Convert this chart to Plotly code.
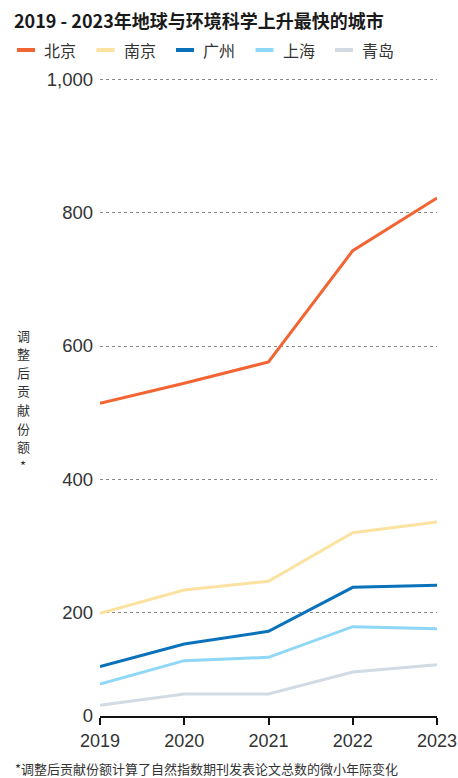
import plotly.graph_objects as go

years = [2019, 2020, 2021, 2022, 2023]
cities = ["北京", "南京", "广州", "上海", "青岛"]
beijing = [514, 544, 576, 743, 822]
nanjing = [199, 234, 247, 320, 336]
guangzhou = [119, 153, 172, 238, 241]
shanghai = [93, 128, 133, 179, 176]
qingdao = [61, 78, 78, 111, 122]
series = [beijing, nanjing, guangzhou, shanghai, qingdao]
colors = ["#F26532", "#FCE2A0", "#0A72BA", "#8FD7F6", "#D2DBE3"]

# the value axis starts a little above zero; the baseline carries the "0" label
y_floor = 45
y_ticks = [y_floor, 200, 400, 600, 800, 1000]
y_tick_text = ["0", "200", "400", "600", "800", "1,000"]

W, H = 458, 778
ML, MR, MT, MB = 100, 21, 78, 62
PW, PH = W - ML - MR, H - MT - MB
FONT = "Liberation Sans, Noto Sans CJK SC, sans-serif"
CJK = "Noto Sans CJK SC, Liberation Sans, sans-serif"


def px_x(px):
    """Horizontal pixel position -> x-domain fraction."""
    return (px - ML) / PW


def px_y(py):
    """Vertical pixel position (from top) -> y-domain fraction."""
    return (H - MB - py) / PH


fig = go.Figure()
for name, vals, col in zip(cities, series, colors):
    fig.add_trace(go.Scatter(
        x=years, y=vals, name=name, mode="lines",
        line=dict(color=col, width=3),
        hoverinfo="x+y+name",
    ))

fig.update_layout(
    width=W, height=H,
    margin=dict(l=ML, r=MR, t=MT, b=MB, autoexpand=False),
    paper_bgcolor="white", plot_bgcolor="white",
    font=dict(family=FONT, color="#333333"),
    title=dict(
        text="<b>2019 - 2023年地球与环境科学上升最快的城市</b>",
        xref="container", yref="container", x=14 / W, xanchor="left",
        y=1 - 22 / H, yanchor="middle",
        font=dict(size=18, color="#1a1a1a", family=CJK),
    ),
    showlegend=False,
)

fig.update_xaxes(
    range=[2019, 2023], tickvals=years, ticktext=[str(y) for y in years],
    showline=True, linecolor="#111111", linewidth=2,
    ticks="outside", ticklen=7, tickwidth=1.5, tickcolor="#111111",
    showgrid=False, zeroline=False, automargin=False,
    tickfont=dict(size=18, color="#333333"),
    fixedrange=True,
)
fig.update_yaxes(
    range=[y_floor, 1002], tickvals=y_ticks, ticktext=y_tick_text,
    showgrid=True, gridcolor="#8a8a8a", gridwidth=1, griddash="dot",
    zeroline=False, showline=False, ticks="", automargin=False,
    ticklabelstandoff=6,
    tickfont=dict(size=18.5, color="#333333"),
    fixedrange=True,
)

# legend row: short coloured bar followed by the city name
for i, (name, col) in enumerate(zip(cities, colors)):
    sx = 17 + 79.5 * i
    fig.add_shape(
        type="line", xref="x domain", yref="y domain",
        x0=px_x(sx), x1=px_x(sx + 18), y0=px_y(50), y1=px_y(50),
        line=dict(color=col, width=4), layer="above",
    )
    fig.add_annotation(
        text=name, xref="x domain", yref="y domain",
        x=px_x(sx + 25), y=px_y(50),
        xanchor="left", yanchor="middle", showarrow=False,
        font=dict(size=16, color="#333333", family=CJK),
    )

# vertical axis title, characters stacked upright one per row
axis_title = "调整后贡献份额*"
for k, ch in enumerate(axis_title):
    fig.add_annotation(
        text=ch, xref="x domain", yref="y domain",
        x=px_x(23), y=px_y(335 + 18.6 * k),
        xanchor="center", yanchor="middle", showarrow=False,
        borderpad=0,
        font=dict(size=13, color="#333333", family=CJK),
    )

fig.add_annotation(
    text="*调整后贡献份额计算了自然指数期刊发表论文总数的微小年际变化",
    xref="x domain", yref="y domain", x=px_x(13), y=px_y(768),
    xanchor="left", yanchor="middle", showarrow=False,
    font=dict(size=13, color="#333333", family=CJK),
)

fig.write_html("out.html")
